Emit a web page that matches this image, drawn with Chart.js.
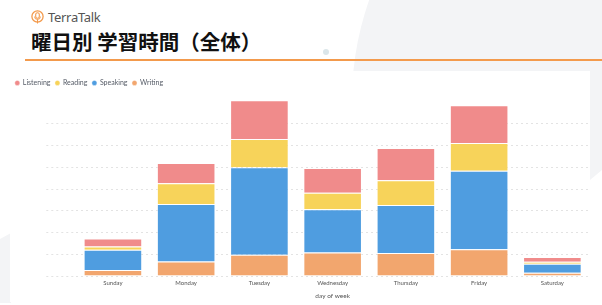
<!DOCTYPE html>
<html lang="ja">
<head>
<meta charset="utf-8">
<title>曜日別 学習時間（全体）</title>
<script src="https://cdn.jsdelivr.net/npm/chart.js@4"></script>
<style>
    html, body {
        margin: 0;
        padding: 0;
        width: 602px;
        height: 305px;
        overflow: hidden;
        background: #ffffff;
        font-family: 'Noto Sans', sans-serif;
    }
    .page {
        position: relative;
        width: 602px;
        height: 305px;
        overflow: hidden;
    }
    .deco-top {
        position: absolute;
        left: 340px;
        top: 0;
        width: 262px;
        height: 182px;
        overflow: hidden;
        clip-path: polygon(0 0, 100% 0, 100% 170px, 250px 180px, 0 180px);
    }
    .deco-top::before {
        content: '';
        position: absolute;
        left: 12px;
        top: -200px;
        width: 600px;
        height: 600px;
        border-radius: 50%;
        background: #f3f4f6;
    }
    .deco-left {
        position: absolute;
        left: 0;
        top: 233px;
        width: 11px;
        height: 70px;
        background: #f3f4f6;
        clip-path: polygon(0 6px, 100% 0, 100% 100%, 0 100%);
    }
    .card {
        position: absolute;
        left: 10px;
        top: 71px;
        width: 580px;
        height: 231px;
        background: #ffffff;
    }
    .dot {
        position: absolute;
        left: 323px;
        top: 49px;
        width: 6px;
        height: 6px;
        border-radius: 50%;
        background: #dbe6ea;
    }
    .brand {
        position: absolute;
        left: 31px;
        top: 8px;
        display: flex;
        align-items: center;
        gap: 4px;
        color: #555;
        font-size: 13px;
        letter-spacing: -0.3px;
    }
    .title {
        position: absolute;
        left: 31px;
        top: 28px;
        margin: 0;
        font-family: 'Noto Sans CJK JP', sans-serif;
        font-weight: 700;
        font-size: 20.5px;
        line-height: 26px;
        color: #111;
    }
    .rule {
        position: absolute;
        left: 25px;
        top: 59px;
        width: 577px;
        height: 2px;
        background: #f39a4c;
    }
    .chart-wrap {
        position: absolute;
        left: 0;
        top: 72px;
        width: 602px;
        height: 233px;
    }
</style>
</head>
<body>
<div class="page">
    <div class="deco-top"></div>
    <div class="deco-left"></div>
    <div class="card"></div>
    <div class="dot"></div>
    <div class="brand">
        <svg width="13" height="14" viewBox="0 0 13 14">
            <circle cx="6.5" cy="6.5" r="5.6" fill="none" stroke="#f39a4c" stroke-width="1.3"/>
            <rect x="4.7" y="2.8" width="3.6" height="5.4" rx="1.8" fill="none" stroke="#f39a4c" stroke-width="1.1"/>
            <path d="M3.6 6.6 Q3.6 9.4 6.5 9.4 Q9.4 9.4 9.4 6.6" fill="none" stroke="#f39a4c" stroke-width="1"/>
            <line x1="6.5" y1="9.4" x2="6.5" y2="13.5" stroke="#f39a4c" stroke-width="1.1"/>
        </svg>
        <span>TerraTalk</span>
    </div>
    <h1 class="title">曜日別 学習時間（全体）</h1>
    <div class="rule"></div>
    <div class="chart-wrap">
        <canvas id="study-day-chart"></canvas>
    </div>
</div>

<script>
// values (y axis has no labels, one grid step = 10)
const days = ['Sunday', 'Monday', 'Tuesday', 'Wednesday', 'Thursday', 'Friday', 'Saturday'];
const writing   = [2.8, 6.7, 9.8, 10.9, 10.6, 12.4, 1.5];
const speaking  = [9.3, 26.5, 40.3, 19.8, 22.1, 36.0, 4.2];
const reading   = [1.5, 9.5, 12.9, 7.6, 11.4, 12.8, 0.9];
const listening = [3.7, 9.3, 17.9, 11.4, 14.8, 17.4, 2.2];
const axisTitle = 'day of week';

class WeekdayStudyChart {
    constructor(canvas) {
        this.canvas = canvas;
        this.chartInstance = null;
        this.render();
    }

    buildDatasets() {
        // stacked bottom -> top, legend is drawn reversed
        const series = [
            { label: 'Writing', data: writing, color: '#f2a66e' },
            { label: 'Speaking', data: speaking, color: '#4f9de0' },
            { label: 'Reading', data: reading, color: '#f7d35a' },
            { label: 'Listening', data: listening, color: '#f08b8b' }
        ];

        return series.map(item => ({
            label: item.label,
            data: item.data,
            backgroundColor: item.color,
            borderColor: 'rgba(255, 255, 255, 0.35)',
            borderWidth: 1,
            categoryPercentage: 0.8,
            barPercentage: 1
        }));
    }

    gridColor(ctx) {
        return ctx.tick && ctx.tick.value % 10 === 0 ? '#e3e3e3' : 'rgba(0, 0, 0, 0)';
    }

    render() {
        const config = {
            type: 'bar',
            data: {
                labels: days,
                datasets: this.buildDatasets()
            },
            options: {
                responsive: true,
                maintainAspectRatio: false,
                animation: false,
                layout: {
                    padding: { left: 10.3, right: 13, top: 2.5, bottom: 0 }
                },
                plugins: {
                    legend: {
                        position: 'top',
                        align: 'start',
                        reverse: true,
                        labels: {
                            usePointStyle: true,
                            pointStyle: 'circle',
                            boxWidth: 4,
                            boxHeight: 3.6,
                            padding: 5,
                            color: '#555b66',
                            font: { family: 'Lato', size: 7 }
                        }
                    },
                    tooltip: { enabled: false }
                },
                scales: {
                    x: {
                        stacked: true,
                        grid: { display: false, drawTicks: false },
                        border: { display: false },
                        ticks: {
                            color: '#555',
                            padding: 3.5,
                            maxRotation: 0,
                            font: { family: 'Lato', size: 6 }
                        },
                        title: {
                            display: true,
                            text: axisTitle,
                            color: '#555',
                            padding: { top: 1.8, bottom: 5.1 },
                            font: { family: 'Lato', size: 6.5 }
                        }
                    },
                    y: {
                        stacked: true,
                        min: 0,
                        max: 82.6,
                        afterFit: scale => {
                            scale.width = 66;
                        },
                        ticks: { display: false, stepSize: 10 },
                        border: { display: false, dash: [2, 3] },
                        grid: {
                            color: ctx => this.gridColor(ctx),
                            tickLength: 30,
                            tickBorderDash: [2, 3],
                            tickColor: ctx => this.gridColor(ctx)
                        }
                    }
                }
            }
        };

        this.chartInstance = new Chart(this.canvas, config);
    }
}

document.addEventListener('DOMContentLoaded', () => {
    const canvas = document.getElementById('study-day-chart');
    if (!canvas || !window.Chart) {
        return;
    }

    new WeekdayStudyChart(canvas);
});
</script>
</body>
</html>
